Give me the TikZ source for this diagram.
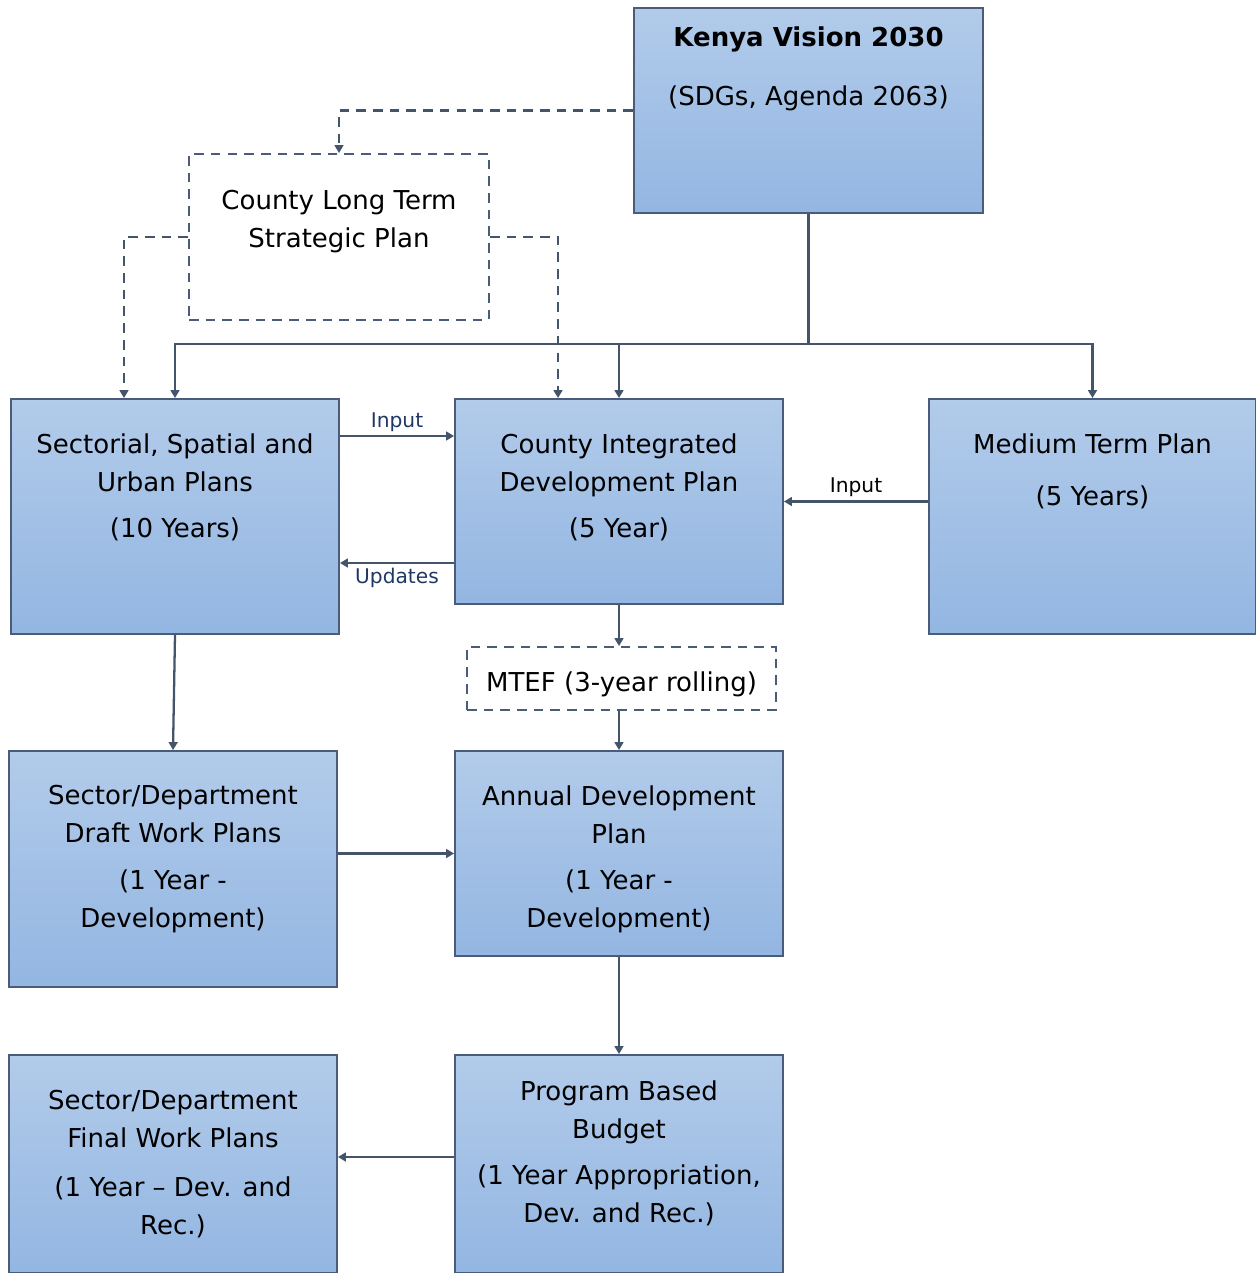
\documentclass[tikz,border=0pt]{standalone}
\usepackage{fontspec}
\setmainfont{DejaVu Sans}
\usepackage{xcolor}
\usepackage{tikz}
\usetikzlibrary{
	arrows.meta,
	positioning,
	calc
}

\definecolor{rimcol}{HTML}{4B5C7A}
\definecolor{linecol}{HTML}{44546A}
\definecolor{topfill}{HTML}{B2CBEA}
\definecolor{botfill}{HTML}{93B6E2}
\definecolor{lblcol}{HTML}{203864}

\tikzset{
	plan/.style={draw=rimcol, line width=1.1pt, top color=topfill, bottom color=botfill, inner sep=0pt},
	dplan/.style={draw=rimcol, line width=1.1pt, dash pattern=on 5.5pt off 4pt, fill=white, inner sep=0pt},
	txt/.style={align=center, inner sep=0pt, anchor=north, font=\fontsize{14.8}{21.6}\selectfont},
	conn/.style={draw=linecol, line width=1.3pt, -{Triangle[length=4.5pt,width=5pt]}},
	dconn/.style={conn, dash pattern=on 5.5pt off 4pt},
	lbl/.style={font=\fontsize{11.5}{13}\selectfont, text=lblcol, inner sep=2pt}
}

\begin{document}
\begin{tikzpicture}[x=0.02cm, y=-0.02cm]
	\useasboundingbox (0,0) rectangle (1256,1273);

	% 方框
	\node[plan, minimum width=6.98cm, minimum height=4.1cm] (vis) at (808.5,110.5) {};
	\node[dplan, minimum width=6cm, minimum height=3.32cm] (ltp) at (339,237) {};
	\node[plan, minimum width=6.56cm, minimum height=4.7cm] (sec) at (175,516.5) {};
	\node[plan, minimum width=6.56cm, minimum height=4.1cm] (cidp) at (619,501.5) {};
	\node[plan, minimum width=6.54cm, minimum height=4.7cm] (mtp) at (1092.5,516.5) {};
	\node[dplan, minimum width=6.18cm, minimum height=1.26cm, text height=15pt, text depth=0pt, font=\fontsize{14.8}{21.6}\selectfont] (mtef) at (621.5,678.5) {MTEF (3-year rolling)};
	\node[plan, minimum width=6.56cm, minimum height=4.72cm] (draft) at (173,869) {};
	\node[plan, minimum width=6.56cm, minimum height=4.1cm] (adp) at (619,853.5) {};
	\node[plan, minimum width=6.56cm, minimum height=4.36cm] (final) at (173,1164) {};
	\node[plan, minimum width=6.56cm, minimum height=4.36cm] (pbb) at (619,1164) {};

	% 文字
	\node[txt] (vist) at (808.5,26) {\textbf{Kenya Vision 2030}\\[12pt] (SDGs, Agenda 2063)};
	\node[txt] (ltpt) at (339,190) {County Long Term\\ Strategic Plan};
	\node[txt] (sect) at (175,433) {Sectorial, Spatial and\\ Urban Plans\\[5pt] (10 Years)};
	\node[txt] (cidpt) at (619,433) {County Integrated\\ Development Plan\\[5pt] (5 Year)};
	\node[txt] (mtpt) at (1092.5,433) {Medium Term Plan\\[8pt] (5 Years)};
	\node[txt] (draftt) at (173,785) {Sector/Department\\ Draft Work Plans\\[5pt] (1 Year -\\ Development)};
	\node[txt] (adpt) at (619,785) {Annual Development\\ Plan\\[5pt] (1 Year -\\ Development)};
	\node[txt] (finalt) at (173,1090) {Sector/Department\\ Final Work Plans\\[6pt] (1 Year -- Dev. and\\ Rec.)};
	\node[txt] (pbbt) at (619,1080) {Program Based\\ Budget\\[5pt] (1 Year Appropriation,\\ Dev. and Rec.)};

	% 主干连线
	\coordinate (bus) at (808.5,344);
	\draw[conn] (vis.south) -- (bus) -| (sec.north);
	\draw[conn] (bus) -| (cidp.north);
	\draw[conn] (bus) -| (mtp.north);

	% 虚线
	\draw[dconn] (vis.west) -| (ltp.north);
	\draw[dconn] (ltp.west) -| ([xshift=-1.02cm]sec.north);
	\draw[dconn] (ltp.east) -| ([xshift=-1.22cm]cidp.north);

	% 横向箭头
	\draw[conn] (sec.east |- 0,436) -- (cidp.west |- 0,436) node[lbl, midway, above] {Input};
	\draw[conn] (cidp.west |- 0,563) -- (sec.east |- 0,563) node[lbl, midway, below] {Updates};
	\draw[conn] (mtp.west |- cidp.east) -- (cidp.east) node[lbl, midway, above, text=black] {Input};

	% 纵向箭头
	\draw[conn] (cidp.south) -- (mtef.north -| cidp.south);
	\draw[conn] (mtef.south -| adp.north) -- (adp.north);
	\draw[conn] (sec.south) -- (draft.north);
	\draw[conn] (draft.east |- adp.west) -- (adp.west);
	\draw[conn] (adp.south) -- (pbb.north);
	\draw[conn] (pbb.west |- 0,1157) -- (final.east |- 0,1157);
\end{tikzpicture}
\end{document}
